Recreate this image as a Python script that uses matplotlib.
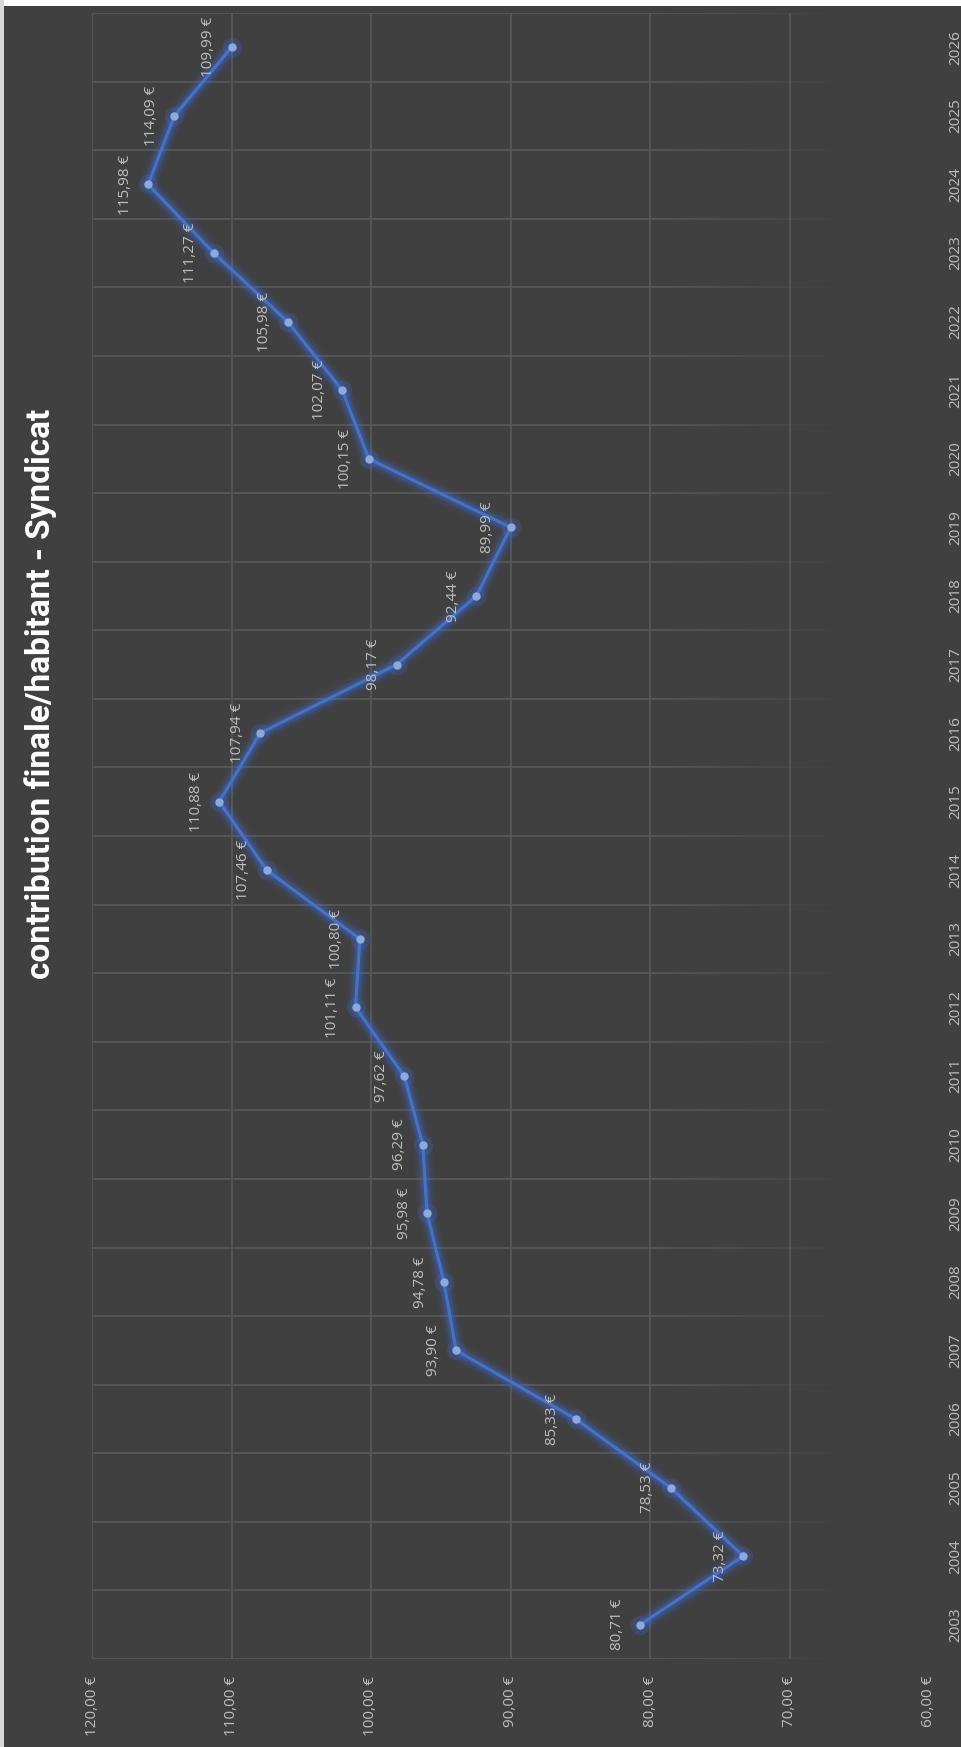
import numpy as np
import matplotlib
matplotlib.use("Agg")
import matplotlib.pyplot as plt
from matplotlib.collections import LineCollection
from matplotlib.patches import Rectangle

# Data
years = [str(y) for y in range(2003, 2027)]
values = [80.71, 73.32, 78.53, 85.33, 93.90, 94.78, 95.98, 96.29, 97.62, 101.11,
          100.80, 107.46, 110.88, 107.94, 98.17, 92.44, 89.99, 100.15, 102.07,
          105.98, 111.27, 115.98, 114.09, 109.99]
value_ticks = [120, 110, 100, 90, 80, 70, 60]
title = "contribution finale/habitant - Syndicat"

BG = "#404040"
GRID = "#5a5a5a"
TEXT = "#bfbfbf"
LINE = "#4472C4"
MARK = "#8eaadc"

W, H = 961, 1747
fig = plt.figure(figsize=(W / 100, H / 100), dpi=100, facecolor=BG)

# white strip at top, light strip on the left (border of the pasted chart)
fig.patches.append(Rectangle((0, 1 - 6 / H), 1, 6 / H, transform=fig.transFigure,
                             facecolor="white", edgecolor="none", zorder=-1))
fig.patches.append(Rectangle((0, 0), 4 / W, 1, transform=fig.transFigure,
                             facecolor="#d9d9d9", edgecolor="none", zorder=-1))

# plot area (chart is drawn rotated: values run right-to-left, years bottom-to-top)
left, right, top, bottom = 92, 929, 13, 1659
ax = fig.add_axes([left / W, 1 - bottom / H, (right - left) / W, (bottom - top) / H])
ax.set_facecolor(BG)
for s in ax.spines.values():
    s.set_visible(False)

n = len(years)
pos = np.arange(n)
ax.set_xlim(120, 60)
ax.set_ylim(-0.5, n - 0.5)

# value gridlines
for v in value_ticks[:-1]:
    ax.axvline(v, color=GRID, lw=1.2, zorder=1)

# category gridlines, fading out toward the low values
xs = np.linspace(120, 60, 121)
alph = np.clip((xs - 66) / (80 - 66), 0, 1)
for b in np.arange(-0.5, n, 1.0):
    segs = [[(xs[k], b), (xs[k + 1], b)] for k in range(len(xs) - 1)]
    cols = [(0x5a / 255, 0x5a / 255, 0x5a / 255, a) for a in alph[:-1]]
    ax.add_collection(LineCollection(segs, colors=cols, linewidths=1.2, zorder=1))

# glow
for lw, a in [(14, 0.05), (11, 0.07), (8, 0.10), (6, 0.14)]:
    ax.plot(values, pos, color="#3f78ff", lw=lw, alpha=a, solid_capstyle="round",
            solid_joinstyle="round", zorder=2)
ax.plot(values, pos, color="#3f78ff", lw=0, marker="o", ms=13, alpha=0.12, zorder=2)
ax.plot(values, pos, color=LINE, lw=2.3, solid_joinstyle="round", zorder=3)
ax.plot(values, pos, lw=0, marker="o", ms=5, color=MARK, mec=MARK, zorder=4)

fam = ["Open Sans", "DejaVu Sans"]
for v, p in zip(values, pos):
    ax.annotate(f"{v:.2f} €".replace(".", ","), (v, p), xytext=(-23, 0),
                textcoords="offset pixels", ha="center", va="center",
                rotation=90, color=TEXT, fontsize=11, family=fam, zorder=5)

ax.set_xticks(value_ticks)
ax.set_xticklabels([f"{v:.2f} €".replace(".", ",") for v in value_ticks],
                   rotation=90, color=TEXT, fontsize=11, family=fam)
ax.tick_params(axis="x", length=0, pad=12)

ax.yaxis.tick_right()
ax.set_yticks(pos)
ax.set_yticklabels(years, rotation=90, color=TEXT, fontsize=11, family=fam, va="center")
ax.tick_params(axis="y", length=0, pad=14)

fig.text(41 / W, 1 - 694 / H, title, rotation=90, ha="center", va="center",
         color="white", fontsize=24, fontweight="bold",
         family=["Roboto", "DejaVu Sans"])

fig.savefig("out.png", dpi=100, facecolor=BG)
